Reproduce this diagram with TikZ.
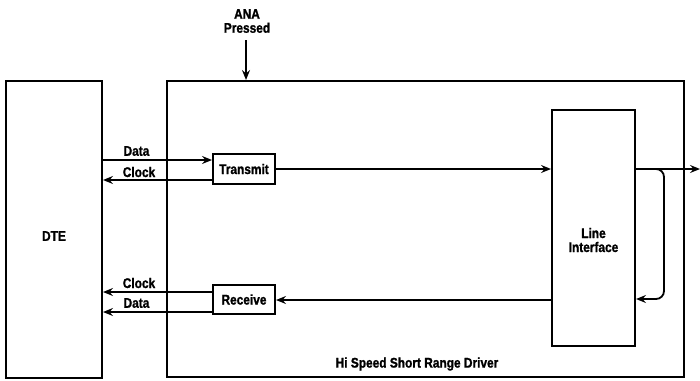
\documentclass[tikz,border=0pt]{standalone}
\usepackage{fontspec}
\setmainfont[FakeStretch=0.85,BoldFeatures={FakeBold=1.2}]{Liberation Sans}
\usetikzlibrary{arrows.meta}
\begin{document}
\begin{tikzpicture}[x=1pt,y=-1pt,
  font=\fontsize{14}{14}\selectfont\bfseries,
  box/.style={draw,line width=2pt,inner sep=0pt},
  lbl/.style={inner sep=0pt},
  arr/.style={line width=1.8pt,-{Stealth[length=10pt,width=8pt,inset=3.5pt]}}]
\useasboundingbox (0,0) rectangle (700,380);
\node[box,minimum width=96pt,minimum height=297pt] (dte) at (54,229.5) {};
\node[lbl] (dtet) at (54,236) {DTE};
\node[box,minimum width=517pt,minimum height=296pt] (main) at (425.5,229) {};
\node[box,minimum width=83pt,minimum height=236pt] (li) at (593.5,228) {};
\node[lbl,align=center] (lit) at (593.5,240) {Line\\Interface};
\node[box,minimum width=62pt,minimum height=30pt] (tx) at (244,169) {Transmit};
\node[box,minimum width=62pt,minimum height=29pt] (rx) at (244,299.5) {Receive};
\node[lbl,align=center] (ana) at (247,21) {ANA\\Pressed};
\node[lbl] (hs) at (417,364) {Hi Speed Short Range Driver};
\node[lbl] (d1) at (136.5,151) {Data};
\node[lbl] (c1) at (139,172) {Clock};
\node[lbl] (c2) at (139,283) {Clock};
\node[lbl] (d2) at (136.5,303) {Data};
\coordinate (out) at (700,169);
\coordinate (anatop) at (246,40);
% arrows
\draw[arr] (dte.east |- 0,160) -- (tx.west |- 0,160);
\draw[arr] (tx.west |- 0,180) -- (dte.east |- 0,180);
\draw[arr] (tx.east) -- (tx.east -| li.west);
\draw[arr] (li.east |- out) -- (out);
\draw[arr,rounded corners=8pt] (650,169) -- (664,169) -- (664,299) -- (li.east |- 0,299);
\draw[arr] (li.west |- 0,300) -- (rx.east |- 0,300);
\draw[arr] (rx.west |- 0,292) -- (dte.east |- 0,292);
\draw[arr] (rx.west |- 0,312) -- (dte.east |- 0,312);
\draw[arr] (anatop) -- (anatop |- main.north);
\end{tikzpicture}
\end{document}
